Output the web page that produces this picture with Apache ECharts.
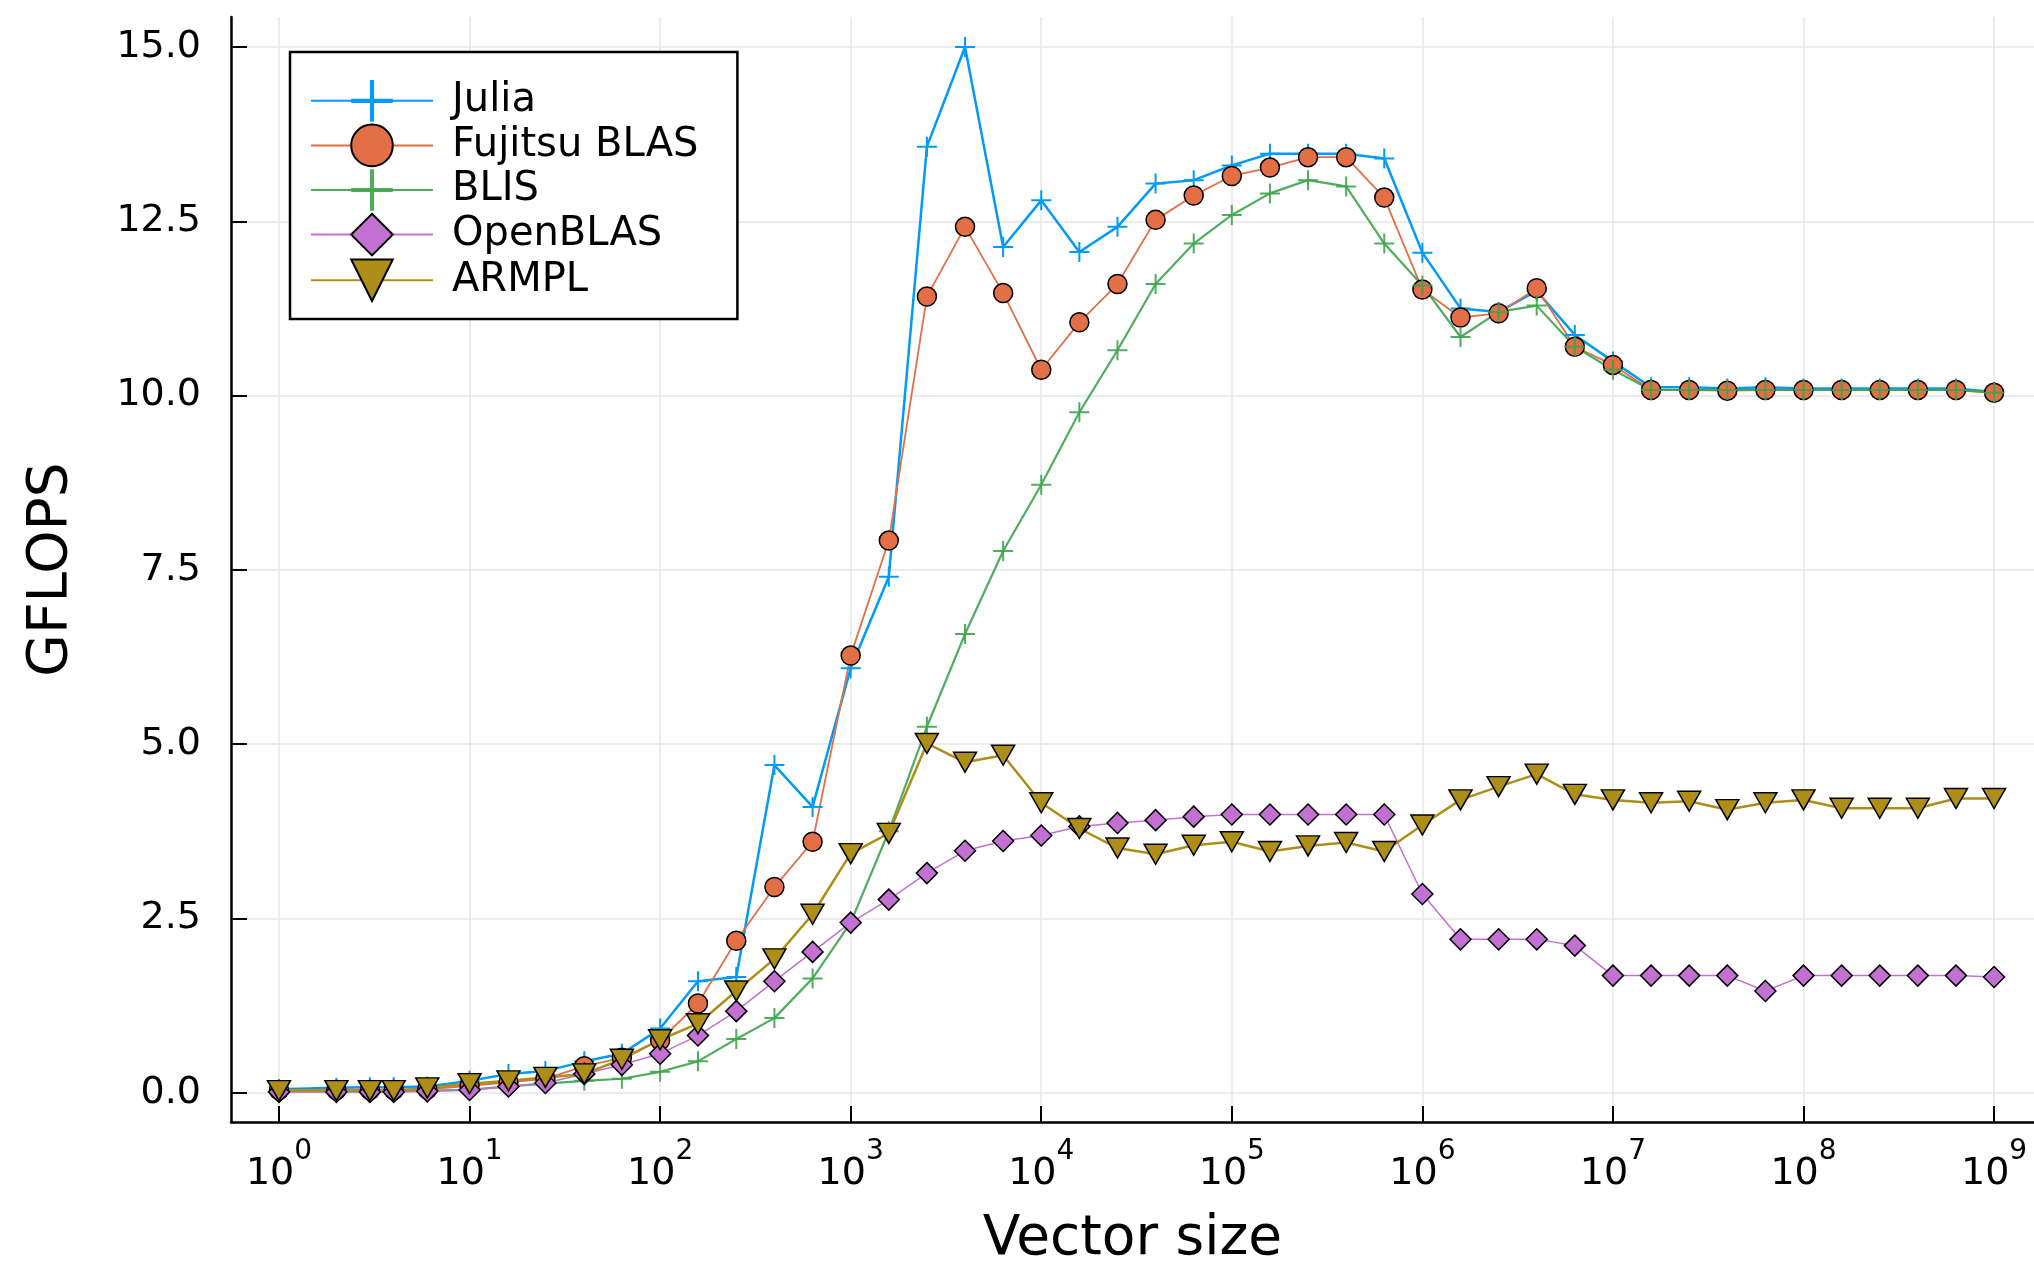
<!DOCTYPE html>
<html lang="en" style="height: 100%">
<head>
  <meta charset="utf-8">
</head>
<body style="height: 100%; margin: 0; background: #fff">
  <div id="container" style="width: 2034px; height: 1272px"></div>

  <script type="text/javascript" src="https://cdn.jsdelivr.net/npm/echarts@6/dist/echarts.min.js"></script>
  <script type="text/javascript">
    // vector sizes (x), one point per fifth of a decade
    var sizes = [1, 2, 3, 4, 6, 10, 16, 25, 40, 63,
      100, 158, 251, 398, 631, 1000, 1585, 2512, 3981, 6310,
      10000, 15849, 25119, 39811, 63096, 100000, 158489, 251189, 398107, 630957,
      1000000, 1584893, 2511886, 3981072, 6309573, 10000000, 15848932, 25118864, 39810717, 63095734,
      100000000, 158489319, 251188643, 398107171, 630957344, 1000000000];

    // GFLOPS per library
    var julia = [0.05, 0.07, 0.08, 0.08, 0.09, 0.17, 0.27, 0.31, 0.45, 0.56,
      0.92, 1.6, 1.66, 4.7, 4.1, 6.09, 7.4, 13.57, 15.0, 12.13,
      12.8, 12.06, 12.42, 13.04, 13.09, 13.3, 13.47, 13.47, 13.47, 13.4,
      12.05, 11.25, 11.2, 11.5, 10.87, 10.49, 10.12, 10.12, 10.1, 10.12,
      10.1, 10.1, 10.1, 10.1, 10.1, 10.05];
    var fujitsu = [0.04, 0.04, 0.04, 0.04, 0.05, 0.1, 0.15, 0.2, 0.38, 0.5,
      0.75, 1.28, 2.18, 2.95, 3.6, 6.27, 7.92, 11.42, 12.42, 11.47,
      10.37, 11.05, 11.6, 12.52, 12.87, 13.15, 13.27, 13.42, 13.42, 12.84,
      11.52, 11.12, 11.18, 11.54, 10.7, 10.44, 10.08, 10.08, 10.07, 10.08,
      10.08, 10.08, 10.08, 10.08, 10.08, 10.04];
    var blis = [0.02, 0.02, 0.02, 0.02, 0.03, 0.04, 0.09, 0.13, 0.17, 0.2,
      0.3, 0.45, 0.77, 1.07, 1.64, 2.44, 3.75, 5.25, 6.58, 7.77,
      8.72, 9.76, 10.65, 11.6, 12.18, 12.59, 12.9, 13.09, 13.0, 12.18,
      11.58, 10.84, 11.2, 11.29, 10.7, 10.37, 10.08, 10.08, 10.08, 10.08,
      10.08, 10.08, 10.08, 10.08, 10.08, 10.04];
    var openblas = [0.01, 0.01, 0.01, 0.01, 0.02, 0.04, 0.09, 0.14, 0.27, 0.4,
      0.56, 0.82, 1.17, 1.6, 2.02, 2.44, 2.77, 3.15, 3.47, 3.61,
      3.69, 3.82, 3.87, 3.91, 3.96, 3.99, 3.99, 3.99, 3.99, 3.99,
      2.85, 2.2, 2.2, 2.2, 2.11, 1.68, 1.68, 1.68, 1.68, 1.46,
      1.68, 1.68, 1.68, 1.68, 1.68, 1.66];
    var armpl = [0.03, 0.03, 0.03, 0.03, 0.07, 0.13, 0.17, 0.22, 0.27, 0.48,
      0.76, 0.99, 1.46, 1.92, 2.56, 3.43, 3.72, 5.01, 4.74, 4.84,
      4.16, 3.79, 3.51, 3.42, 3.55, 3.6, 3.46, 3.54, 3.59, 3.46,
      3.84, 4.2, 4.39, 4.57, 4.28, 4.2, 4.16, 4.18, 4.06, 4.16,
      4.2, 4.08, 4.08, 4.08, 4.22, 4.22];

    var xTicks = [1, 10, 100, 1000, 10000, 100000, 1000000, 10000000, 100000000, 1000000000];
    var yTicks = [0, 2.5, 5, 7.5, 10, 12.5, 15];

    var FONT = 'DejaVu Sans';
    var CROSS = 'path://M9,0h2v9h9v2h-9v9h-2v-9h-9v-2h9z';
    var DTRI = 'path://M0,0L10,0L5,9Z';

    function pairs(ys) {
      return sizes.map(function (s, i) { return [s, ys[i]]; });
    }

    function makeSeries(name, ys, color, width, symbol, size, border, opacity) {
      return {
        name: name,
        type: 'line',
        data: pairs(ys),
        symbol: symbol,
        symbolSize: size,
        showAllSymbol: true,
        lineStyle: { color: color, width: width, opacity: opacity || 1 },
        itemStyle: {
          color: color,
          borderColor: border ? '#000' : color,
          borderWidth: border ? 1.5 : 0,
          opacity: opacity || 1
        },
        emphasis: { disabled: true },
        silent: true
      };
    }

    var dom = document.getElementById('container');
    var myChart = echarts.init(dom, null, { renderer: 'canvas' });

    var option = {
      animation: false,
      backgroundColor: '#fff',
      textStyle: { fontFamily: FONT },
      grid: { left: 231, right: 0, top: 17, bottom: 146, containLabel: false },
      legend: {
        orient: 'vertical',
        left: 290,
        top: 52,
        padding: [28, 39, 17, 20],
        itemWidth: 122,
        itemHeight: 52,
        itemGap: 2,
        borderColor: '#000',
        borderWidth: 2.5,
        backgroundColor: '#fff',
        textStyle: { fontFamily: FONT, fontSize: 40, color: '#000', padding: [0, 0, 0, 14] }
      },
      xAxis: {
        type: 'log',
        logBase: 10,
        min: 0.56,
        max: 1.62e9,
        name: 'Vector size',
        nameLocation: 'middle',
        nameGap: 90,
        nameTextStyle: { fontFamily: FONT, fontSize: 55, color: '#000' },
        axisLine: { onZero: false, lineStyle: { color: '#000', width: 2.5 } },
        axisTick: { inside: true, length: 16, lineStyle: { color: '#000', width: 2 }, customValues: xTicks },
        splitLine: { show: true, lineStyle: { color: '#e6e6e6', width: 1.5 } },
        axisLabel: {
          customValues: xTicks,
          margin: 16,
          formatter: function (v) {
            return '{b|10}{s|' + Math.round(Math.log10(v)) + '}';
          },
          rich: {
            b: { fontFamily: FONT, fontSize: 38, color: '#000', lineHeight: 55, verticalAlign: 'bottom' },
            s: { fontFamily: FONT, fontSize: 28, color: '#000', verticalAlign: 'top' }
          }
        }
      },
      yAxis: {
        type: 'value',
        min: -0.42,
        max: 15.43,
        name: 'GFLOPS',
        nameLocation: 'middle',
        nameGap: 152,
        nameTextStyle: { fontFamily: FONT, fontSize: 55, color: '#000' },
        axisLine: { show: true, onZero: false, lineStyle: { color: '#000', width: 2.5 } },
        axisTick: { show: true, inside: true, length: 16, lineStyle: { color: '#000', width: 2 }, customValues: yTicks },
        splitLine: { show: true, lineStyle: { color: '#e6e6e6', width: 1.5 } },
        axisLabel: {
          customValues: yTicks,
          margin: 30,
          fontFamily: FONT,
          fontSize: 38,
          color: '#000',
          formatter: function (v) { return v.toFixed(1); }
        }
      },
      series: [
        makeSeries('Julia', julia, '#009AFA', 2.5, CROSS, 20, false),
        makeSeries('Fujitsu BLAS', fujitsu, '#E26F46', 1.8, 'circle', 19, true),
        makeSeries('BLIS', blis, '#3DA44D', 2.2, CROSS, 20, false, 0.9),
        makeSeries('OpenBLAS', openblas, '#C271D2', 1.5, 'diamond', 21, true),
        makeSeries('ARMPL', armpl, '#AC8E18', 2.5, DTRI, [23, 20], true)
      ]
    };

    myChart.setOption(option);
    window.addEventListener('resize', myChart.resize);
  </script>
</body>
</html>
